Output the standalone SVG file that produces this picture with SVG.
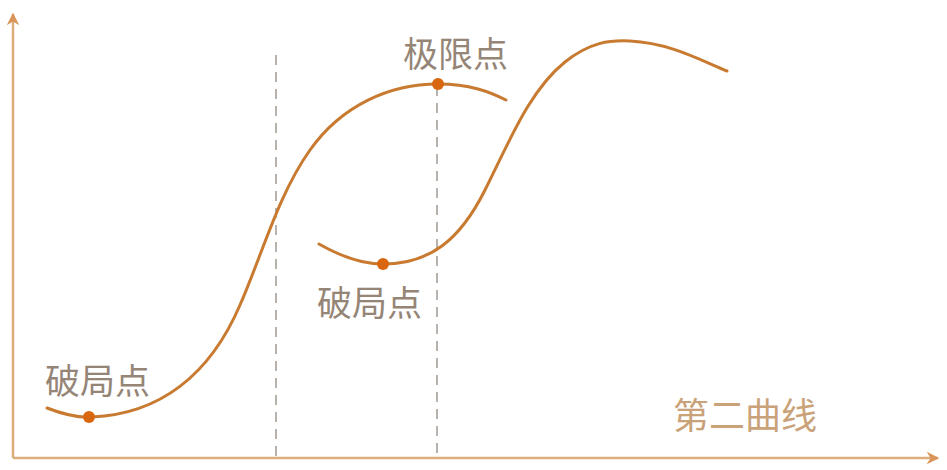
<svg xmlns="http://www.w3.org/2000/svg" width="947" height="470" viewBox="0 0 947 470">
<defs>
<style>
.axis{stroke:#dcae7c;stroke-width:2.5;fill:none}
.curve{stroke:#c77a30;stroke-width:3;fill:none;stroke-linecap:round}
.dash{stroke:#b0aaa4;stroke-width:1.8;stroke-dasharray:10 7;fill:none}
.dot{fill:#d9670f}
.lbl{font-family:"Noto Sans CJK SC","Noto Sans",sans-serif;font-size:35px;fill:#958577}
.lbl2{font-family:"Noto Sans CJK SC","Noto Sans",sans-serif;font-size:36px;fill:#c9a27a}
</style>
<marker id="arr" viewBox="0 0 10 10" refX="9" refY="5" markerWidth="5" markerHeight="5" orient="auto">
<path d="M0,0 L10,5 L0,10 L3,5 Z" fill="#d9955a"/>
</marker>
</defs>
<rect width="947" height="470" fill="#ffffff"/>
<g id="axes">
<path class="axis" d="M13,458 L13,14" marker-end="url(#arr)"/>
<path class="axis" d="M13,458 L938,458" marker-end="url(#arr)"/>
</g>
<g id="connectors">
<path class="dash" d="M276,55 L276,458"/>
<path class="dash" d="M437,86 L437,458"/>
</g>
<g id="curve1">
<path class="curve" d="M47,408 C65,415 78,418 92,417 C160,414 210,375 240,305 C262,255 278,195 310,150 C342,105 390,84 438,84 C470,84 490,92 506,100"/>
</g>
<g id="curve2">
<path class="curve" d="M319,244 C340,256 360,264 383,264 C430,264 460,240 485,190 C510,140 530,90 565,62 C590,42 610,40 630,41 C670,43 700,60 727,71"/>
</g>
<g id="dot1"><circle class="dot" cx="89" cy="417" r="6"/></g>
<g id="dot2"><circle class="dot" cx="438" cy="84" r="6"/></g>
<g id="dot3"><circle class="dot" cx="383" cy="264" r="6"/></g>
<g id="label-left"><text class="lbl" x="45" y="394">破局点</text></g>
<g id="label-top"><text class="lbl" x="403" y="67">极限点</text></g>
<g id="label-mid"><text class="lbl" x="317" y="316">破局点</text></g>
<g id="label-curve"><text class="lbl2" x="673" y="429">第二曲线</text></g>
</svg>
